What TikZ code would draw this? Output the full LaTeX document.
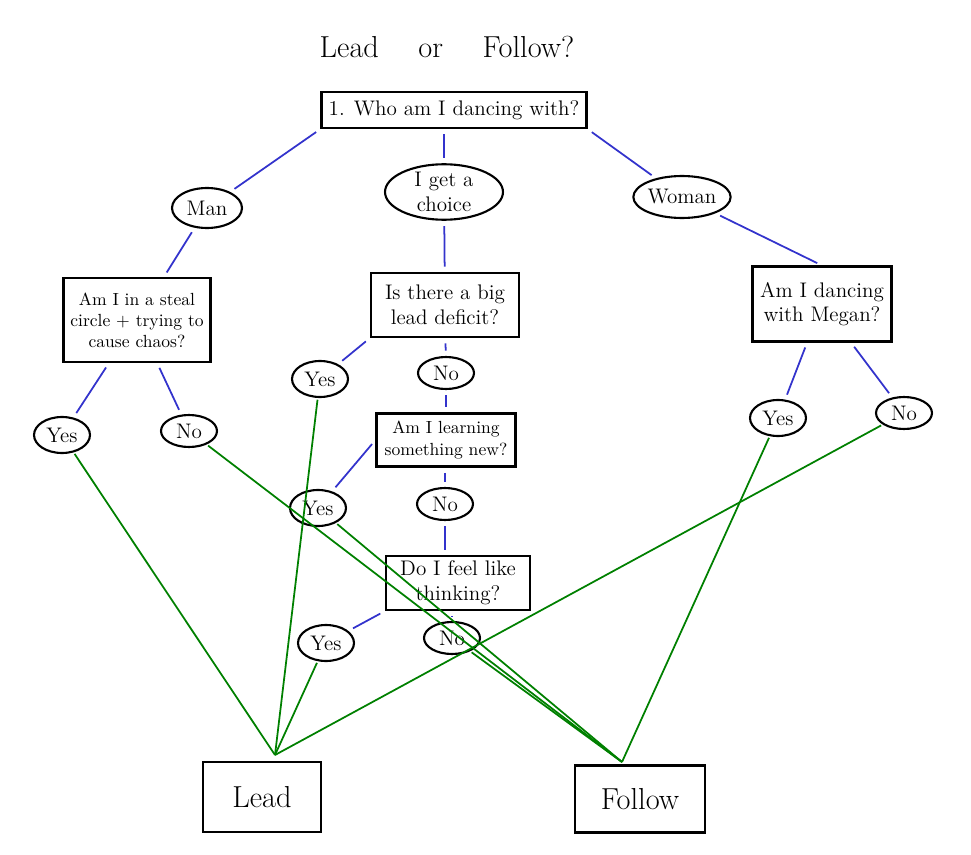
\documentclass[tikz,border=0pt]{standalone}
\usepackage{xcolor}
\usepackage{tikz}
\usetikzlibrary{shapes.geometric}

\definecolor{askblue}{HTML}{3333CC}
\definecolor{pickgreen}{HTML}{008000}

\begin{document}
\begin{tikzpicture}[x=0.02cm, y=-0.02cm,
  qbox/.style={draw, rectangle, line width=1.2pt, align=center, inner sep=2pt},
  ans/.style={draw, ellipse, line width=1.2pt, align=center, inner sep=0pt, font=\large,
              minimum width=1.12cm, minimum height=0.68cm},
  ask/.style={draw=askblue, line width=1pt, shorten <=3pt, shorten >=3pt},
  pick/.style={draw=pickgreen, line width=1pt, shorten <=1pt}]
  \useasboundingbox (0,0) rectangle (971,855);

  % Title
  \node[font=\LARGE] (title) at (447,47) {Lead \quad or \quad Follow?};

  % First question
  \node[qbox, font=\large, minimum width=5.3cm, minimum height=0.72cm] (q1) at (454,110) {1. Who am I dancing with?};
  \node[ans, minimum width=1.4cm, minimum height=0.8cm] (man) at (207,208) {Man};
  \node[ans, minimum width=2.36cm, minimum height=1.1cm] (choice) at (444,192) {I get a\\choice};
  \node[ans, minimum width=1.84cm, minimum height=0.84cm] (woman) at (682,197) {Woman};

  % Questions
  \node[qbox, minimum width=2.94cm, minimum height=1.68cm] (steal) at (137,320) {Am I in a steal\\circle + trying to\\cause chaos?};
  \node[qbox, font=\large, minimum width=2.96cm, minimum height=1.28cm] (deficit) at (445,305) {Is there a big\\lead deficit?};
  \node[qbox, font=\large, minimum width=2.78cm, minimum height=1.5cm] (megan) at (822,304) {Am I dancing\\with Megan?};
  \node[qbox, minimum width=2.78cm, minimum height=1.06cm] (learning) at (446,440) {Am I learning\\something new?};
  \node[qbox, font=\large, minimum width=2.88cm, minimum height=1.08cm] (thinking) at (458,583) {Do I feel like\\thinking?};

  % Answers
  \node[ans, minimum height=0.72cm] (yesA) at (62,435) {Yes};
  \node[ans, minimum height=0.64cm] (noA) at (189,431) {No};
  \node[ans, minimum height=0.72cm] (yesB) at (320,379) {Yes};
  \node[ans, minimum height=0.64cm] (noB) at (446,373) {No};
  \node[ans, minimum height=0.72cm] (yesC) at (318,508) {Yes};
  \node[ans, minimum height=0.64cm] (noC) at (445,504) {No};
  \node[ans, minimum height=0.72cm] (yesD) at (326,643) {Yes};
  \node[ans, minimum height=0.64cm] (noD) at (452,638) {No};
  \node[ans, minimum height=0.72cm] (yesE) at (778,418) {Yes};
  \node[ans, minimum height=0.64cm] (noE) at (904,413) {No};

  % Outcomes
  \node[qbox, font=\LARGE, minimum width=2.36cm, minimum height=1.4cm] (lead) at (262,797) {Lead};
  \node[qbox, font=\LARGE, minimum width=2.6cm, minimum height=1.34cm] (follow) at (640,799) {Follow};
  \coordinate (leadtop) at (275,755);
  \coordinate (followtop) at (622,762);

  % Question links
  \draw[ask] (q1.south west) -- (man);
  \draw[ask] (q1.south -| choice) -- (choice);
  \draw[ask] (q1.south east) -- (woman);
  \draw[ask] (man) -- (steal);
  \draw[ask] (choice) -- (deficit);
  \draw[ask] (woman) -- (megan.north);
  \draw[ask] (steal) -- (yesA);
  \draw[ask] (steal) -- (noA);
  \draw[ask] (deficit.south west) -- (yesB);
  \draw[ask] (deficit) -- (noB);
  \draw[ask] (noB) -- (learning);
  \draw[ask] (learning.west) -- (yesC);
  \draw[ask] (learning.south -| noC) -- (noC);
  \draw[ask] (noC) -- (noC |- thinking.north);
  \draw[ask] (thinking.south west) -- (yesD);
  \draw[ask] (thinking.south -| noD) -- (noD);
  \draw[ask] (megan) -- (yesE);
  \draw[ask] (megan) -- (noE);

  % Decisions
  \draw[pick] (yesA) -- (leadtop);
  \draw[pick] (yesB) -- (leadtop);
  \draw[pick] (yesD) -- (leadtop);
  \draw[pick] (noE) -- (leadtop);
  \draw[pick] (noA) -- (followtop);
  \draw[pick] (yesC) -- (followtop);
  \draw[pick] (noD) -- (followtop);
  \draw[pick] (yesE) -- (followtop);
\end{tikzpicture}
\end{document}
